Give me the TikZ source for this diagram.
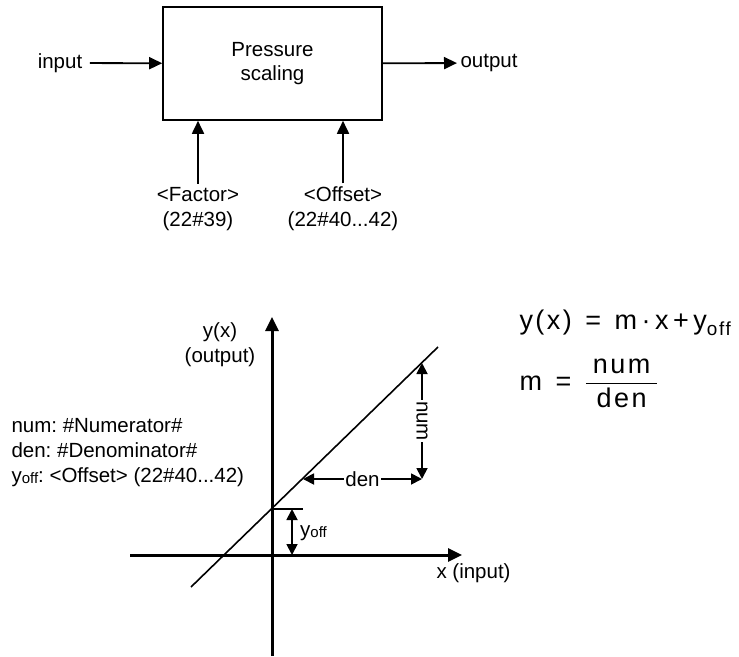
\documentclass[tikz,border=0pt]{standalone}
\usepackage{fontspec}
\setmainfont{Liberation Sans}
\newfontfamily\eqfont[LetterSpace=9]{Liberation Sans}
\usepackage{amsmath}
\usetikzlibrary{positioning,arrows.meta}

\newcommand{\yoffs}{y\raisebox{-1pt}{\fontsize{15}{15}\selectfont off}}

\begin{document}
\frenchspacing
\begin{tikzpicture}[x=1pt, y=-1pt,
  lbl/.style={font=\fontsize{20.5}{25}\selectfont, align=center},
  block/.style={draw, line width=1.6pt, minimum width=219pt, minimum height=113pt,
                align=center, font=\fontsize{20.5}{24}\selectfont},
  sig/.style={line width=1.8pt, -{Triangle[length=13pt,width=12pt]}},
  axis/.style={line width=3pt, -{Triangle[length=14pt,width=13pt]}},
  dim/.style={line width=1.8pt, {Triangle[length=11pt,width=11pt]}-{Triangle[length=11pt,width=11pt]}},
  gap/.style={fill=white, inner sep=1pt, font=\fontsize{20.5}{24}\selectfont},
  eq/.style={anchor=west, font=\eqfont\fontsize{27}{31}\selectfont},
]
\useasboundingbox (0,0) rectangle (739,656);

% Block with input, output and parameters
\node[block] (scale) at (272.5, 63.5) {Pressure\\scaling};
\node[lbl] (input) at (60, 63) {input};
\node[lbl, anchor=west] (output) at (457, 63) {output};
\node[lbl] (factor) at (198, 209) {<Factor>\\(22\#39)};
\node[lbl] (offset) at (343, 209) {<Offset>\\(22\#40...42)};

\draw[sig, shorten <=4pt] (input) -- (scale);
\draw[sig] (scale) -- (output);
\draw[sig] (factor.north) -- (factor.north |- scale.south);
\draw[sig] (offset.north) -- (offset.north |- scale.south);

% Axes
\coordinate (ybot) at (272, 656);
\coordinate (ytop) at (272, 317);
\coordinate (xleft) at (130, 555);
\coordinate (xright) at (462, 555);
\draw[axis] (ybot) -- (ytop);
\draw[axis] (xleft) -- (xright);

\node[lbl] (ylab) at (220, 345) {y(x)\\(output)};
\node[lbl, anchor=west] (xlab) at (433, 573) {x (input)};

% Characteristic line y = m x + y_off
\coordinate (la) at (191, 587);
\coordinate (lb) at (438, 347);
\draw[line width=1.6pt] (la) -- (lb);

% Offset
\coordinate (yint) at (272, 509);
\coordinate (tick) at (303, 509);
\draw[line width=1.6pt] (yint) -- (tick);
\coordinate (offtop) at (292, 509);
\coordinate (offbot) at (292, 555);
\draw[dim] (offtop) -- (offbot);
\node[lbl, anchor=west, inner sep=0pt] (offlab) at (300, 533) {\yoffs};

% Slope triangle
\coordinate (denA) at (303, 479);
\coordinate (corner) at (422, 479);
\coordinate (numB) at (422, 363);
\draw[dim] (denA) -- node[gap] {den} (corner);
\draw[dim] (corner) -- node[gap, rotate=-90] {num} (numB);

% Legend
\node[lbl, anchor=west, align=left] (legend) at (8, 453)
  {num: \#Numerator\#\\den: \#Denominator\#\\\yoffs: <Offset> (22\#40...42)};

% Equations
\node[eq] (eqy) at (516, 323) {y(x)\enspace=\enspace m\,\textperiodcentered\,x\,+\,y\textsubscript{off}};
\node[eq] (eqm) at (516, 383) {m\enspace=\enspace$\dfrac{\;\mbox{num}\;}{\;\mbox{den}\;}$};

\end{tikzpicture}
\end{document}
